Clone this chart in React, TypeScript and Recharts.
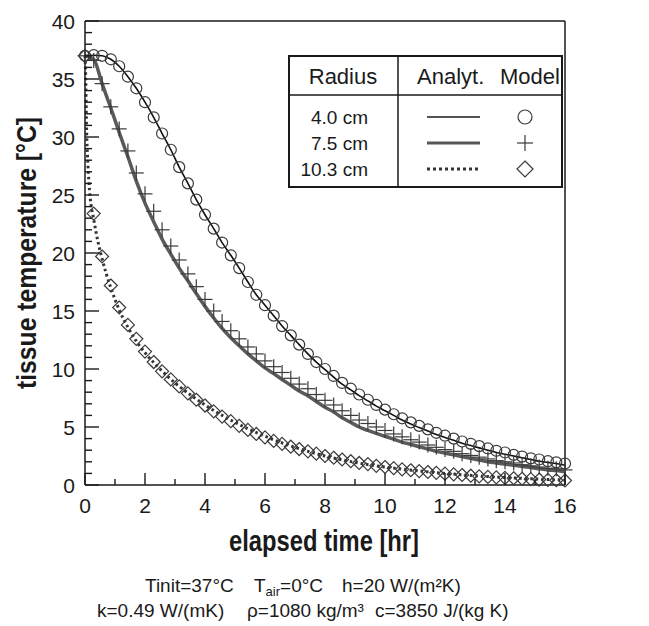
import React from 'react'
import {
  ComposedChart,
  Line,
  Scatter,
  XAxis,
  YAxis,
  ReferenceLine,
} from 'recharts'

// time grid of the model points [hr]
const T_HOURS = [
  0, 0.29, 0.57, 0.86, 1.14, 1.43, 1.71, 2, 2.29, 2.57, 2.86, 3.14, 3.43, 3.71, 4,
  4.29, 4.57, 4.86, 5.14, 5.43, 5.71, 6, 6.29, 6.57, 6.86, 7.14, 7.43, 7.71, 8,
  8.29, 8.57, 8.86, 9.14, 9.43, 9.71, 10, 10.29, 10.57, 10.86, 11.14, 11.43, 11.71, 12,
  12.29, 12.57, 12.86, 13.14, 13.43, 13.71, 14, 14.29, 14.57, 14.86, 15.14, 15.43, 15.71, 16,
]

// 4.0 cm
const MODEL_40 = [
  37, 37.05, 37, 36.7, 36.1, 35.2, 34.2, 33, 31.7, 30.3, 28.9, 27.4, 26, 24.6, 23.3,
  22.1, 20.9, 19.8, 18.7, 17.5, 16.4, 15.5, 14.6, 13.7, 12.9, 12.1, 11.3, 10.6, 10,
  9.4, 8.8, 8.3, 7.8, 7.35, 6.9, 6.5, 6.1, 5.75, 5.4, 5.1, 4.8, 4.5, 4.25,
  4, 3.75, 3.55, 3.35, 3.15, 2.95, 2.8, 2.6, 2.45, 2.3, 2.2, 2.05, 1.95, 1.85,
]
const ANALYT_40 = [
  37, 37.05, 37, 36.7, 36.1, 35.2, 34.2, 33, 31.7, 30.3, 28.9, 27.4, 26, 24.6, 23.3,
  22.1, 20.9, 19.8, 18.7, 17.5, 16.4, 15.5, 14.6, 13.7, 12.9, 12.1, 11.3, 10.6, 9.95,
  9.3, 8.7, 8.2, 7.7, 7.25, 6.8, 6.4, 6, 5.6, 5.25, 4.95, 4.65, 4.35, 4.1,
  3.85, 3.6, 3.4, 3.2, 3, 2.8, 2.65, 2.5, 2.35, 2.2, 2.05, 1.95, 1.85, 1.7,
]

// 7.5 cm
const MODEL_75 = [
  37, 36.6, 34.6, 32.6, 30.7, 28.8, 26.9, 25.1, 23.6, 22, 20.6, 19.4, 18.2, 17.1, 16,
  15, 14.1, 13.3, 12.6, 11.9, 11.3, 10.7, 10.2, 9.7, 9.2, 8.7, 8.3, 7.8, 7.3,
  6.9, 6.4, 6, 5.6, 5.3, 5, 4.7, 4.4, 4.15, 3.9, 3.7, 3.45, 3.25, 3.05,
  2.9, 2.7, 2.55, 2.4, 2.25, 2.1, 2, 1.9, 1.75, 1.65, 1.55, 1.45, 1.4, 1.3,
]
const ANALYT_75 = [
  37, 36.7, 34.6, 32.5, 30.4, 28.3, 26.2, 24.3, 22.7, 21.2, 19.9, 18.7, 17.6, 16.5, 15.4,
  14.4, 13.5, 12.7, 12, 11.3, 10.7, 10.1, 9.6, 9.1, 8.6, 8.1, 7.7, 7.2, 6.7,
  6.3, 5.8, 5.4, 5, 4.7, 4.45, 4.2, 3.95, 3.7, 3.5, 3.3, 3.1, 2.9, 2.75,
  2.6, 2.45, 2.3, 2.15, 2, 1.9, 1.8, 1.7, 1.6, 1.5, 1.4, 1.3, 1.25, 1.15,
]

// 10.3 cm
const MODEL_103 = [
  37, 23.4, 19.7, 17.2, 15.3, 13.8, 12.6, 11.5, 10.6, 9.8, 9.1, 8.5, 7.9, 7.35, 6.85,
  6.35, 5.9, 5.5, 5.1, 4.75, 4.4, 4.1, 3.8, 3.55, 3.3, 3.1, 2.9, 2.7, 2.5,
  2.35, 2.2, 2.05, 1.9, 1.8, 1.65, 1.55, 1.45, 1.35, 1.27, 1.2, 1.12, 1.05, 0.98,
  0.92, 0.86, 0.8, 0.75, 0.7, 0.66, 0.62, 0.58, 0.54, 0.5, 0.47, 0.44, 0.41, 0.39,
]
// the analytic 10.3 cm curve drops almost vertically at the start, so it has its own times
const ANALYT_103_T = [
  0, 0.02, 0.05, 0.1, 0.15, 0.2, 0.29, 0.43, 0.57, 0.71, 0.86, 1, 1.14, 1.43, 1.71, 2,
  2.5, 3, 3.5, 4, 5, 6, 7, 8, 9, 10, 11, 12, 13, 14, 15, 16,
]
const ANALYT_103 = [
  37, 35.5, 31, 27.5, 25.4, 24.2, 22.9, 21, 19.5, 18.2, 17, 16, 15.1, 13.6, 12.4, 11.4,
  10, 8.8, 7.8, 6.9, 5.4, 4.2, 3.25, 2.5, 1.95, 1.55, 1.25, 1, 0.8, 0.65, 0.52, 0.42,
]

const X_TICKS = [0, 1, 2, 3, 4, 5, 6, 7, 8, 9, 10, 11, 12, 13, 14, 15, 16]
const Y_TICKS = Array.from({ length: 41 }, (_, i) => i)

const RADII = ['4.0 cm', '7.5 cm', '10.3 cm']

const FONT = "'Liberation Sans', Arial, Helvetica, sans-serif"
const INK = '#1a1a1a'
const MARK = '#3a3a3a'

// chart geometry
const W = 649
const H = 626
const MARGIN = { top: 21, right: 84, bottom: 111, left: 25 }
const Y_AXIS_W = 60
const X_AXIS_H = 30
const PLOT_L = MARGIN.left + Y_AXIS_W
const PLOT_B = H - MARGIN.bottom - X_AXIS_H
const PLOT_W = W - PLOT_L - MARGIN.right
const PLOT_H = PLOT_B - MARGIN.top

const toPts = (ts: number[], vs: number[]) => ts.map((t, i) => ({ t, T: vs[i] }))

const m40 = toPts(T_HOURS, MODEL_40)
const m75 = toPts(T_HOURS, MODEL_75)
const m103 = toPts(T_HOURS, MODEL_103)
const a40 = toPts(T_HOURS, ANALYT_40)
const a75 = toPts(T_HOURS, ANALYT_75)
const a103 = toPts(ANALYT_103_T, ANALYT_103)

// marker shapes
const Circle = ({ cx, cy, r = 5.5 }: any) => (
  <circle cx={cx} cy={cy} r={r} fill="none" stroke={MARK} strokeWidth={1.2} />
)
const Plus = ({ cx, cy, s = 7.5 }: any) => (
  <g stroke={MARK} strokeWidth={1.2}>
    <line x1={cx - s} x2={cx + s} y1={cy} y2={cy} />
    <line x1={cx} x2={cx} y1={cy - s} y2={cy + s} />
  </g>
)
const Diamond = ({ cx, cy, s = 6.5 }: any) => (
  <path
    d={`M${cx},${cy - s}L${cx + s},${cy}L${cx},${cy + s}L${cx - s},${cy}Z`}
    fill="none"
    stroke={MARK}
    strokeWidth={1.2}
  />
)

function YTick({ x, y, payload }: any) {
  if (payload.value % 5 !== 0) return <g />
  return (
    <text x={x} y={y} dy="0.36em" textAnchor="end" fontSize={21} fontFamily={FONT} fill={INK}>
      {payload.value}
    </text>
  )
}

function XTick({ x, y, payload }: any) {
  if (payload.value % 2 !== 0) return <g />
  return (
    <text x={x} y={y} dy="0.74em" textAnchor="middle" fontSize={21} fontFamily={FONT} fill={INK}>
      {payload.value}
    </text>
  )
}

// inward tick marks (long on labelled values)
function TickMarks() {
  return (
    <g stroke={INK} strokeWidth={1.4}>
      {Y_TICKS.map((v) => {
        const y = PLOT_B - (v / 40) * PLOT_H
        return <line key={`y${v}`} x1={PLOT_L} x2={PLOT_L + (v % 5 === 0 ? 14 : 7)} y1={y} y2={y} />
      })}
      {X_TICKS.map((v) => {
        const x = PLOT_L + (v / 16) * PLOT_W
        return <line key={`x${v}`} x1={x} x2={x} y1={PLOT_B} y2={PLOT_B - (v % 2 === 0 ? 12 : 6)} />
      })}
    </g>
  )
}

function LegendTable() {
  const rows = [117, 143, 169]
  return (
    <g fontFamily={FONT} fill={INK}>
      <rect x={289} y={56} width={273} height={131} fill="#fff" stroke={INK} strokeWidth={2} />
      <line x1={289} x2={562} y1={95} y2={95} stroke={INK} strokeWidth={1.5} />
      <line x1={398} x2={398} y1={56} y2={187} stroke={INK} strokeWidth={1.5} />
      <text x={343} y={84} textAnchor="middle" fontSize={22}>Radius</text>
      <text x={417} y={84} fontSize={22}>Analyt.</text>
      <text x={500} y={84} fontSize={22}>Model</text>
      {RADII.map((r, i) => (
        <text key={r} x={368} y={rows[i] + 6.5} textAnchor="end" fontSize={19}>{r}</text>
      ))}
      <line x1={427} x2={480} y1={rows[0]} y2={rows[0]} stroke={INK} strokeWidth={1.6} />
      <line x1={427} x2={480} y1={rows[1]} y2={rows[1]} stroke="#555" strokeWidth={3} />
      <line x1={427} x2={480} y1={rows[2]} y2={rows[2]} stroke="#333" strokeWidth={3} strokeDasharray="3 3" />
      <Circle cx={525} cy={rows[0]} r={7} />
      <Plus cx={525} cy={rows[1]} s={8} />
      <Diamond cx={525} cy={rows[2]} s={8} />
    </g>
  )
}

export default function App() {
  return (
    <div style={{ position: 'absolute', left: 0, top: 0, width: W, height: H, background: '#fff' }}>
      <ComposedChart width={W} height={H} margin={MARGIN}>
        <XAxis
          type="number"
          dataKey="t"
          domain={[0, 16]}
          ticks={X_TICKS}
          interval={0}
          height={X_AXIS_H}
          tickSize={0}
          tickMargin={12}
          tickLine={false}
          axisLine={{ stroke: INK, strokeWidth: 1.5 }}
          tick={(p: any) => <XTick {...p} />}
        />
        <YAxis
          type="number"
          dataKey="T"
          domain={[0, 40]}
          ticks={Y_TICKS}
          interval={0}
          width={Y_AXIS_W}
          tickSize={0}
          tickMargin={10}
          tickLine={false}
          axisLine={{ stroke: INK, strokeWidth: 1.5 }}
          tick={(p: any) => <YTick {...p} />}
        />

        {/* frame: top and right edges */}
        <ReferenceLine y={40} stroke={INK} strokeWidth={1.5} />
        <ReferenceLine x={16} stroke={INK} strokeWidth={1.5} />

        <Line data={a40} dataKey="T" type="monotone" stroke="#111" strokeWidth={1.6} dot={false} isAnimationActive={false} />
        <Line data={a75} dataKey="T" type="monotone" stroke="#5a5a5a" strokeWidth={3.5} dot={false} isAnimationActive={false} />
        <Line
          data={a103}
          dataKey="T"
          type="monotone"
          stroke="#333"
          strokeWidth={3}
          strokeDasharray="2.5 3"
          dot={false}
          isAnimationActive={false}
        />

        <Scatter data={m40} dataKey="T" shape={(p: any) => <Circle {...p} />} isAnimationActive={false} />
        <Scatter data={m75} dataKey="T" shape={(p: any) => <Plus {...p} />} isAnimationActive={false} />
        <Scatter data={m103} dataKey="T" shape={(p: any) => <Diamond {...p} />} isAnimationActive={false} />
      </ComposedChart>

      <svg width={W} height={H} style={{ position: 'absolute', left: 0, top: 0, pointerEvents: 'none' }}>
        <TickMarks />
        <LegendTable />
        <text
          x={36}
          y={253}
          transform="rotate(-90 36 253)"
          textAnchor="middle"
          fontSize={27}
          fontWeight="bold"
          fontFamily={FONT}
          fill={INK}
          textLength={272}
          lengthAdjust="spacingAndGlyphs"
        >
          tissue temperature [°C]
        </text>
        <text
          x={324}
          y={551}
          textAnchor="middle"
          fontSize={29}
          fontWeight="bold"
          fontFamily={FONT}
          fill={INK}
          textLength={190}
          lengthAdjust="spacingAndGlyphs"
        >
          elapsed time [hr]
        </text>
        <g fontFamily={FONT} fontSize={19} fill={INK}>
          <text x={145} y={592}>Tinit=37°C</text>
          <text x={254} y={592}>
            T<tspan fontSize={13} dy={4}>air</tspan><tspan dy={-4}>=0°C</tspan>
          </text>
          <text x={342} y={592}>h=20 W/(m²K)</text>
          <text x={97} y={617}>k=0.49 W/(mK)</text>
          <text x={247} y={617}>ρ=1080 kg/m³</text>
          <text x={375} y={617}>c=3850 J/(kg K)</text>
        </g>
      </svg>
    </div>
  )
}
